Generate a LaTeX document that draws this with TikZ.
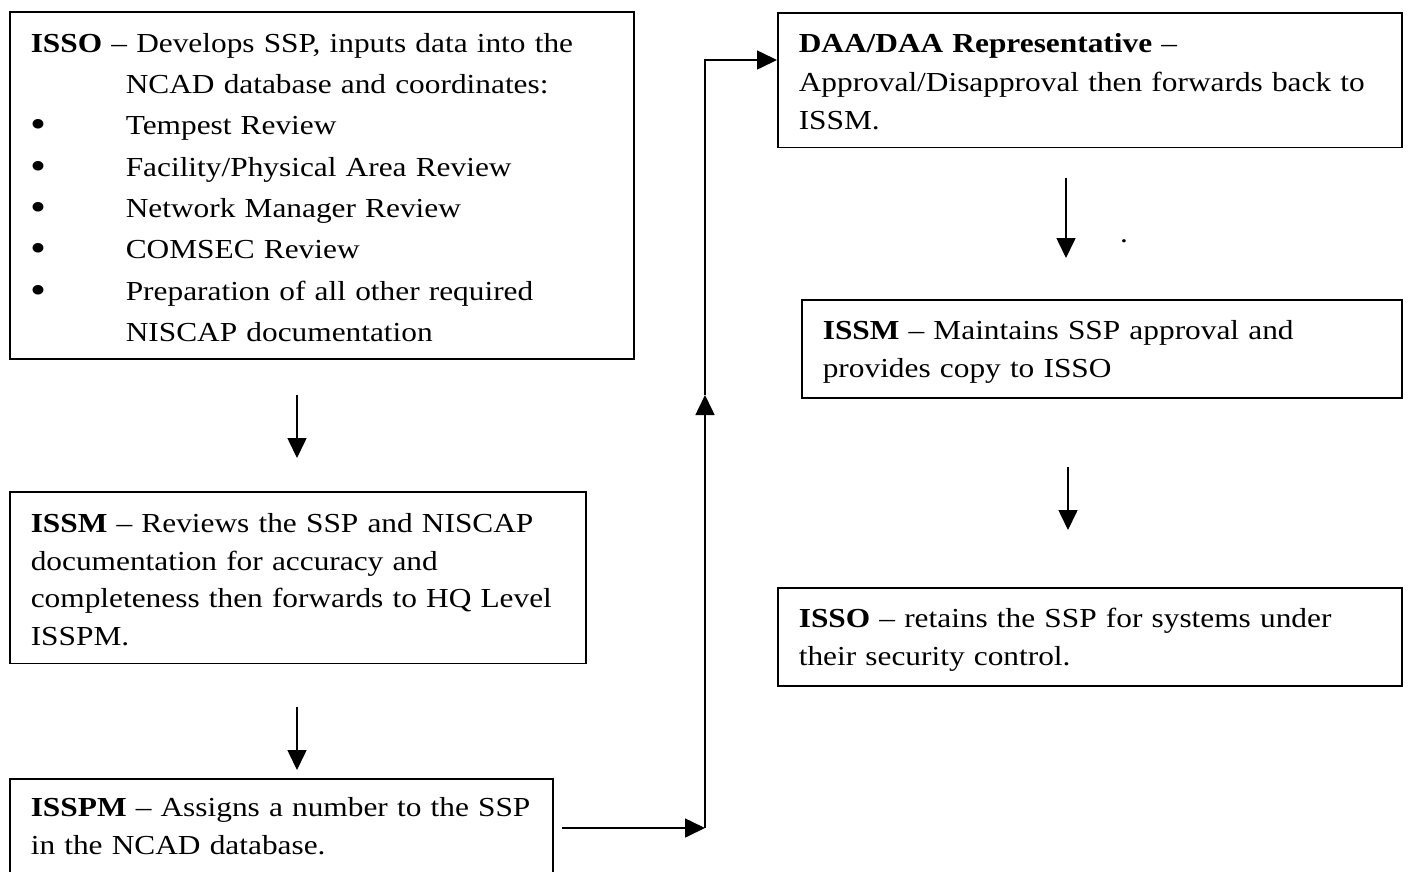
\documentclass[tikz,border=0pt]{standalone}
\usepackage{fontspec}
\setmainfont{Liberation Serif}[FakeStretch=1.14]
\usetikzlibrary{arrows.meta}

\newcommand{\bulletitem}{\makebox[95pt][l]{\raisebox{-3pt}{\fontsize{40}{40}\selectfont\textbullet}}}
% top gap to first baseline, gap below last baseline, lines
\newcommand{\padtext}[3]{\rule{0pt}{#1}#3\rule[-#2]{0pt}{#2}}

\begin{document}
\begin{tikzpicture}[x = 1pt, y = -1pt,
        box/.style = {draw, line width = 1.6pt, anchor = north west, align = left, inner xsep = 21pt, inner ysep = 0pt},
        arr/.style = {line width = 1.6pt, -{Triangle[length = 20pt, width = 19pt]}}]

    \useasboundingbox (0, 0) rectangle (1414, 871);

    \node (isso) at (9, 11) [box, text width = 582pt, font = \fontsize{27.5}{41.3}\selectfont]
        {\padtext{40.5pt}{17.5pt}{\textbf{ISSO} -- Develops SSP, inputs data into the\\
         \hspace*{95pt}NCAD database and coordinates:\\
         \bulletitem Tempest Review\\
         \bulletitem Facility/Physical Area Review\\
         \bulletitem Network Manager Review\\
         \bulletitem COMSEC Review\\
         \bulletitem Preparation of all other required\\
         \hspace*{95pt}NISCAP documentation}};

    \coordinate (a1s) at (297, 395);
    \coordinate (a1e) at (297, 458);
    \draw [arr] (a1s) -- (a1e);

    \node (issm) at (9, 491) [box, text width = 534pt, font = \fontsize{27.5}{37.5}\selectfont]
        {\padtext{41pt}{18pt}{\textbf{ISSM} -- Reviews the SSP and NISCAP\\
         documentation for accuracy and\\
         \mbox{completeness then forwards to HQ Level}\\
         ISSPM.}};

    \coordinate (a2s) at (297, 707);
    \coordinate (a2e) at (297, 770);
    \draw [arr] (a2s) -- (a2e);

    \node (isspm) at (9, 778) [box, text width = 501pt, font = \fontsize{27.5}{38}\selectfont]
        {\padtext{38pt}{40pt}{\mbox{\textbf{ISSPM} -- Assigns a number to the SSP}\\
         in the NCAD database.}};

    \coordinate (jn1) at (705, 828);
    \coordinate (jn2) at (705, 395);
    \coordinate (daain) at (777, 60);
    \draw [arr] ([xshift = 8pt] isspm.east |- jn1) -- (jn1);
    \draw [arr] (jn1) -- (jn2);
    \draw [arr] (jn2) |- (daain);

    \node (daa) at (777, 12) [box, text width = 582pt, font = \fontsize{27.5}{38.3}\selectfont]
        {\padtext{40pt}{18pt}{\textbf{DAA/DAA Representative} --\\
         \mbox{Approval/Disapproval then forwards back to}\\
         ISSM.}};

    \coordinate (a6s) at (1066, 178);
    \coordinate (a6e) at (1066, 258);
    \draw [arr] (a6s) -- (a6e);
    \node (dot) at (1124, 242) [anchor = base, font = \fontsize{27.5}{38}\selectfont] {.};

    \node (issmb) at (801, 299) [box, text width = 558pt, font = \fontsize{27.5}{38}\selectfont]
        {\padtext{40pt}{20pt}{\textbf{ISSM} -- Maintains SSP approval and\\
         provides copy to ISSO}};

    \coordinate (a7s) at (1068, 467);
    \coordinate (a7e) at (1068, 530);
    \draw [arr] (a7s) -- (a7e);

    \node (issob) at (777, 587) [box, text width = 582pt, font = \fontsize{27.5}{38}\selectfont]
        {\padtext{40pt}{20pt}{\textbf{ISSO} -- retains the SSP for systems under\\
         their security control.}};

\end{tikzpicture}
\end{document}
